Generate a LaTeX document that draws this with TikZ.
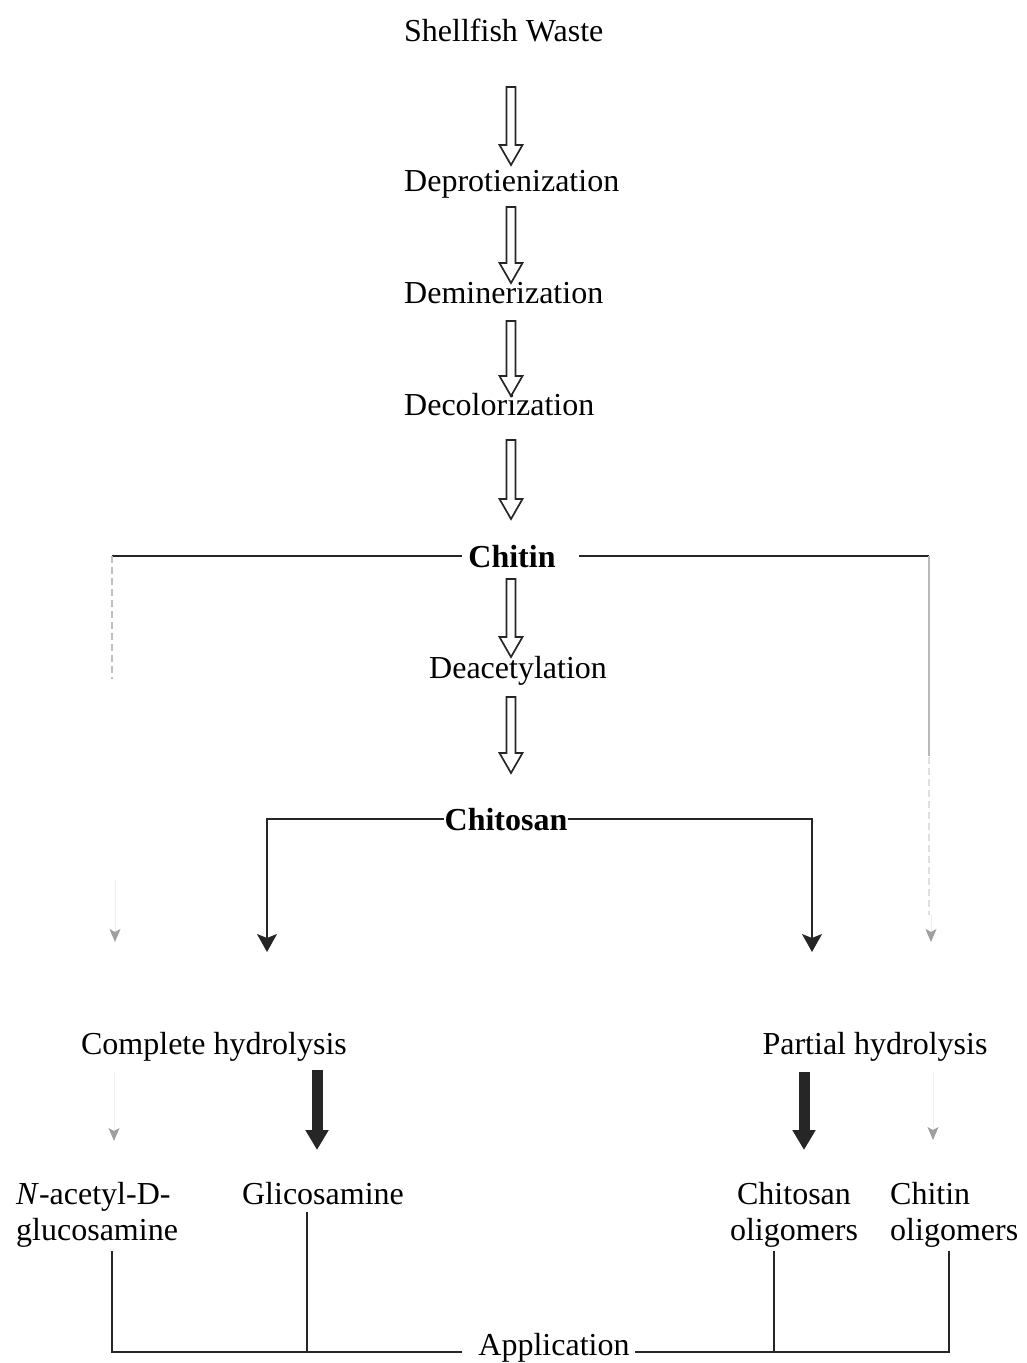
\documentclass[tikz,border=0pt]{standalone}
\usepackage{fontspec}
\setmainfont{Liberation Serif}
\usetikzlibrary{arrows.meta,calc}
\newcommand\hollowarrow[2]{%
  \draw[hollowarr] let \p1=(#1), \p2=(#2) in
    ({\x1-4.5pt},\y1) -- ({\x1+4.5pt},\y1) -- ({\x1+4.5pt},{\y2+20pt}) --
    ({\x1+11.5pt},{\y2+20pt}) -- (\x1,\y2) -- ({\x1-11.5pt},{\y2+20pt}) --
    ({\x1-4.5pt},{\y2+20pt}) -- cycle;}
\begin{document}
\begin{tikzpicture}[x=1pt,y=-1pt,
  lab/.style={inner sep=0pt, font=\fontsize{32}{36}\selectfont},
  labb/.style={inner sep=0pt, font=\fontsize{32}{36}\selectfont\bfseries},
  conn/.style={line width=1.6pt, black!85},
  faintline/.style={line width=1.2pt, gray!50, dash pattern=on 7pt off 4pt},
  ghost/.style={line width=1pt, gray!12, -{Stealth[length=13pt,width=11pt,inset=3pt,color=gray!75]}},
  tipped/.style={-{Stealth[length=18pt,width=20pt,inset=4pt]}},
  hollowarr/.style={line width=1.7pt, black!85, line join=miter},
  heavyarr/.style={line width=11pt, black!85, -{Triangle[length=20pt,width=22pt]}}
]
\useasboundingbox (0,0) rectangle (1026,1363);

% labels
\node[lab, anchor=base west] (shell) at (404,41) {Shellfish Waste};
\node[lab, anchor=base west] (deprot) at (404,191) {Deprotienization};
\node[lab, anchor=base west] (demin) at (404,303) {Deminerization};
\node[lab, anchor=base west] (decol) at (404,415) {Decolorization};
\node[labb, anchor=base] (chitin) at (512,567) {Chitin};
\node[lab, anchor=base west] (deacet) at (429,678) {Deacetylation};
\node[labb, anchor=base] (chitosan) at (506,830) {Chitosan};
\node[lab, anchor=base] (complete) at (214,1054) {Complete hydrolysis};
\node[lab, anchor=base] (partial) at (875,1054) {Partial hydrolysis};
\node[lab, anchor=base west] (nac1) at (16,1204) {\textit{N}-acetyl-D-};
\node[lab, anchor=base west] (nac2) at (16,1240) {glucosamine};
\node[lab, anchor=base] (glic) at (323,1204) {Glicosamine};
\node[lab, anchor=base] (cso1) at (794,1204) {Chitosan};
\node[lab, anchor=base] (cso2) at (794,1240) {oligomers};
\node[lab, anchor=base west] (cto1) at (890,1204) {Chitin};
\node[lab, anchor=base west] (cto2) at (890,1240) {oligomers};
\node[lab, anchor=base] (app) at (554,1355) {Application};

% hollow process arrows
\coordinate (h1a) at (511,87);  \coordinate (h1b) at (511,165);
\coordinate (h2a) at (511,207); \coordinate (h2b) at (511,283);
\coordinate (h3a) at (511,321); \coordinate (h3b) at (511,396);
\coordinate (h4a) at (511,440); \coordinate (h4b) at (511,519);
\coordinate (h5a) at (511,579); \coordinate (h5b) at (511,657);
\coordinate (h6a) at (511,697); \coordinate (h6b) at (511,773);
\hollowarrow{h1a}{h1b}
\hollowarrow{h2a}{h2b}
\hollowarrow{h3a}{h3b}
\hollowarrow{h4a}{h4b}
\hollowarrow{h5a}{h5b}
\hollowarrow{h6a}{h6b}

% chitin branches (faded)
\coordinate (cL) at (112,557);
\coordinate (cR) at (929,557);
\draw[conn] ([xshift=-6pt]chitin.west) -- (chitin.west -| cL);
\draw[conn] ([xshift=23pt]chitin.east) -- (chitin.east -| cR);
\draw[faintline] (chitin.west -| cL) -- ++(0,123);
\draw[line width=1.2pt, gray!55] (chitin.east -| cR) -- ++(0,200);
\draw[faintline, gray!25] (929,757) -- (929,915);
\coordinate (gL1) at (115,942); \coordinate (gR1) at (931,942);
\draw[ghost] (115,880) -- (gL1);
\draw[ghost] (931,915) -- (gR1);
\coordinate (gL2) at (114,1141); \coordinate (gR2) at (933,1140);
\draw[ghost] (complete.south -| gL2) ++(0,12) -- (gL2);
\draw[ghost] (partial.south -| gR2) ++(0,12) -- (gR2);

% chitosan branches
\coordinate (hL) at (267,952);
\coordinate (hR) at (812,952);
\draw[conn, tipped] (chitosan.west) -| (hL);
\draw[conn, tipped] (chitosan.east) -| (hR);

% heavy arrows
\coordinate (t1a) at (317,1070); \coordinate (t1b) at (317,1150);
\coordinate (t2a) at (804,1072); \coordinate (t2b) at (804,1150);
\draw[heavyarr] (t1a) -- (t1b);
\draw[heavyarr] (t2a) -- (t2b);

% application
\coordinate (b1) at (112,1251);
\coordinate (b2) at (307,1212);
\coordinate (b3) at (774,1251);
\coordinate (b4) at (949,1251);
\coordinate (appL) at (462,1352);
\coordinate (appR) at (635,1352);
\draw[conn] (b1) |- (appL);
\draw[conn] (b2) -- (b2 |- appL);
\draw[conn] (b4) |- (appR);
\draw[conn] (b3) -- (b3 |- appR);
\end{tikzpicture}
\end{document}
